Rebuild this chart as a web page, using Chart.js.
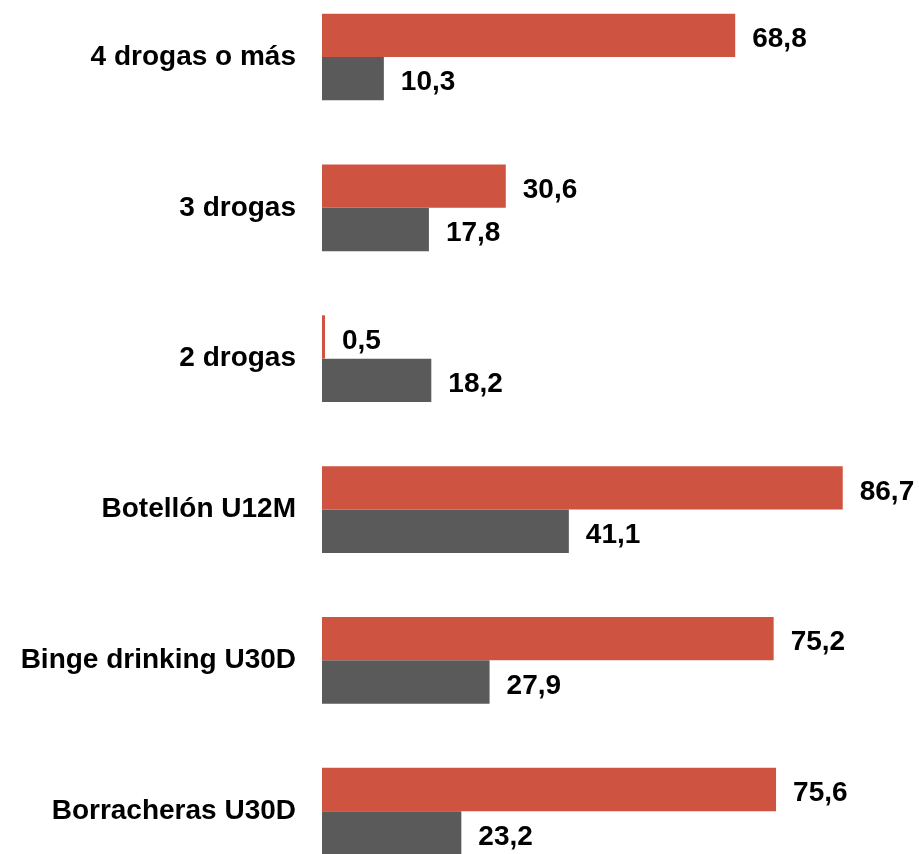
<!DOCTYPE html>
<html>
<head>
<meta charset="utf-8">
<script src="https://cdn.jsdelivr.net/npm/chart.js@4"></script>
<style>
  html, body { margin: 0; padding: 0; background: #fff; }
  #wrap { width: 919px; height: 854px; }
</style>
</head>
<body>
<div id="wrap"><canvas id="chart"></canvas></div>
<script>
const categories = ['4 drogas o más', '3 drogas', '2 drogas', 'Botellón U12M', 'Binge drinking U30D', 'Borracheras U30D'];
const redValues = [68.8, 30.6, 0.5, 86.7, 75.2, 75.6];
const grayValues = [10.3, 17.8, 18.2, 41.1, 27.9, 23.2];

const font = { family: 'Liberation Sans', size: 28, weight: 'bold' };

// value labels right of each bar, decimal comma
const valueLabels = {
  id: 'valueLabels',
  afterDatasetsDraw(chart) {
    const ctx = chart.ctx;
    ctx.save();
    ctx.font = 'bold 28px "Liberation Sans"';
    ctx.fillStyle = '#000';
    ctx.textAlign = 'left';
    ctx.textBaseline = 'middle';
    chart.data.datasets.forEach((ds, i) => {
      chart.getDatasetMeta(i).data.forEach((bar, j) => {
        const txt = ds.data[j].toFixed(1).replace('.', ',');
        ctx.fillText(txt, bar.x + 17, bar.y + 4);
      });
    });
    ctx.restore();
  }
};

new Chart('chart', {
  type: 'bar',
  plugins: [valueLabels],
  data: {
    labels: categories,
    datasets: [
      {
        label: 'rojo',
        data: redValues,
        backgroundColor: '#CF5341',
        categoryPercentage: 0.575,
        barPercentage: 1,
        clip: false,
      },
      {
        label: 'gris',
        data: grayValues,
        backgroundColor: '#5A5A5A',
        categoryPercentage: 0.575,
        barPercentage: 1,
        clip: false,
      },
    ],
  },
  options: {
    indexAxis: 'y',
    responsive: true,
    maintainAspectRatio: false,
    animation: false,
    layout: { padding: { top: 57, bottom: 40, left: 0, right: 0 } },
    plugins: {
      legend: { display: false },
      tooltip: { enabled: false },
    },
    scales: {
      x: {
        display: false,
        min: 0,
        max: 99.4,
      },
      y: {
        offset: false,
        grid: { display: false, drawTicks: false },
        border: { display: false },
        ticks: { color: '#000', font: font, padding: 26 },
        afterFit: (s) => { s.width = 322; },
      },
    },
  },
});
</script>
</body>
</html>
